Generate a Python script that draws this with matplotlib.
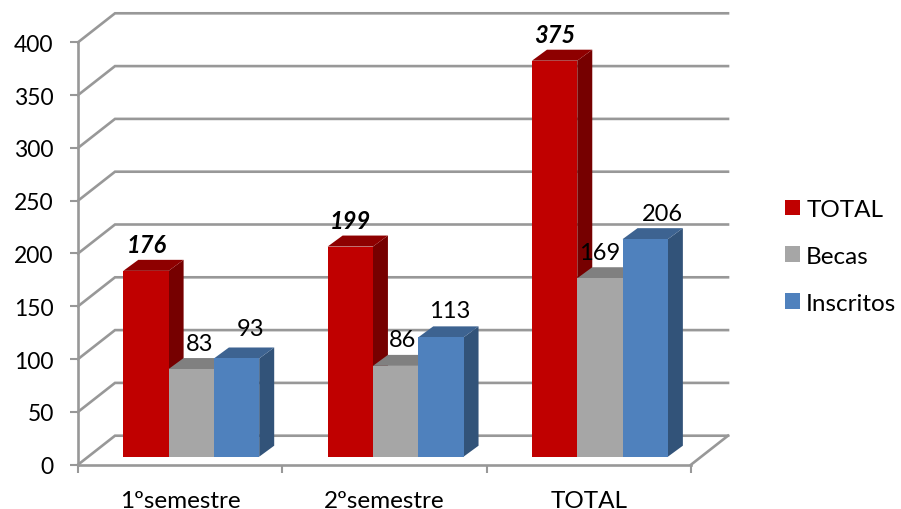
import matplotlib
matplotlib.use("Agg")
import matplotlib.pyplot as plt
from matplotlib.patches import Polygon, Patch

plt.rcParams['font.family'] = ['Lato', 'DejaVu Sans']

categories = ['1ºsemestre', '2ºsemestre', 'TOTAL']
total = [176, 199, 375]
becas = [83, 86, 169]
inscritos = [93, 113, 206]
y_ticks = [0, 50, 100, 150, 200, 250, 300, 350, 400]

# front, top, side colours per series
colors = [('#C00000', '#8E0000', '#760000'),
          ('#A6A6A6', '#808080', '#7A7A7A'),
          ('#4F81BD', '#3D6391', '#325379')]
line_col = '#989898'

W, H = 901, 510
ax_l, ax_r, ax_b, ax_t = 78, 691, 465.7, 43.3
PX = 3 / (ax_r - ax_l)       # category units per pixel
PY = 400 / (ax_b - ax_t)     # value units per pixel

fig = plt.figure(figsize=(W / 100, H / 100), dpi=100)
ax = fig.add_axes([ax_l / W, (H - ax_b) / H, (ax_r - ax_l) / W, (ax_b - ax_t) / H])
ax.set_xlim(0, 3)
ax.set_ylim(0, 400)

# back wall and floor
wall_x = 37 * PX
wall_y = 29 * PY
for v in y_ticks:
    ax.plot([0, wall_x, 3 + wall_x], [v, v + wall_y, v + wall_y], color=line_col, lw=1.9,
            clip_on=False, zorder=1, solid_joinstyle='miter')
ax.plot([3, 3 + wall_x], [0, wall_y], color=line_col, lw=1.9, clip_on=False, zorder=1)

# bars
bar_w = 45.3 * PX
start = 45.3 * PX
base = 8.0 * PY
depth_x = 15 * PX
depth_y = 11 * PY
# hand placed label offsets in pixels, [series][category]
label_dx = [[1, 0, 0], [8, 7, 0], [14, 9, 17]]
label_dy = [[26, 26, 26], [26, 26, 26], [30, 27, 26]]

series = [total, becas, inscritos]
z = 2
for i in range(len(categories)):
    for j, vals in enumerate(series):
        x0 = i + start + j * bar_w
        x1 = x0 + bar_w
        top = base + vals[i]
        front, top_c, side = colors[j]
        ax.add_patch(Polygon([(x1, base), (x1 + depth_x, base + depth_y),
                              (x1 + depth_x, top + depth_y), (x1, top)],
                             facecolor=side, edgecolor='none', clip_on=False, zorder=z))
        ax.add_patch(Polygon([(x0, top), (x0 + depth_x, top + depth_y),
                              (x1 + depth_x, top + depth_y), (x1, top)],
                             facecolor=top_c, edgecolor='none', clip_on=False, zorder=z))
        ax.bar(x0, vals[i], width=bar_w, bottom=base, align='edge', color=front,
               clip_on=False, zorder=z)
        z += 1

for i in range(len(categories)):
    for j, vals in enumerate(series):
        cx = i + start + (j + 0.5) * bar_w + label_dx[j][i] * PX
        cy = base + vals[i] + label_dy[j][i] * PY
        ax.text(cx, cy, str(vals[i]), ha='center', va='center', fontsize=17, color='black',
                fontweight='bold' if j == 0 else 'normal',
                fontstyle='italic' if j == 0 else 'normal',
                clip_on=False, zorder=50)

# axes
for s in ['top', 'right']:
    ax.spines[s].set_visible(False)
for s in ['left', 'bottom']:
    ax.spines[s].set_color(line_col)
    ax.spines[s].set_linewidth(1.9)
ax.patch.set_visible(False)
ax.set_yticks(y_ticks)
ax.set_xticks([0, 1, 2, 3])
ax.set_xticklabels([])
ax.set_xticks([0.5, 1.5, 2.5], minor=True)
ax.set_xticklabels(categories, minor=True)
ax.tick_params(axis='x', which='minor', length=0, pad=18, labelsize=17.5)
ax.tick_params(axis='x', which='major', length=5.5, width=1.5, color=line_col)
ax.tick_params(axis='y', length=5.5, width=1.5, color=line_col, pad=12, labelsize=16.5)

handles = [Patch(facecolor=colors[k][0], label=n)
           for k, n in enumerate(['TOTAL', 'Becas', 'Inscritos'])]
fig.legend(handles=handles, loc='upper left', bbox_to_anchor=(785 / W, 1 - 200 / H),
           frameon=False, fontsize=17.5, handlelength=0.62, handleheight=0.62,
           handletextpad=0.25, labelspacing=1.06, borderpad=0, borderaxespad=0)

fig.savefig('out.png', dpi=100)
